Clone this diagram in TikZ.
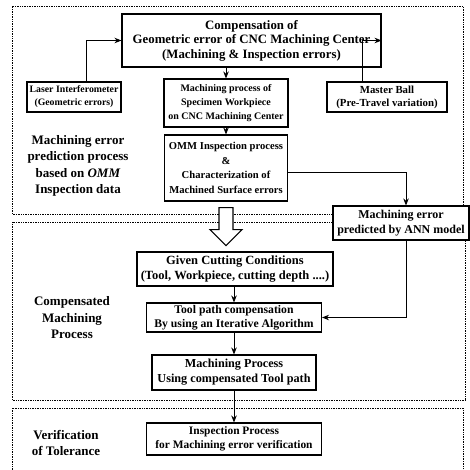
\documentclass[tikz,border=0pt]{standalone}
\usepackage{fontspec}
\setmainfont{Liberation Serif}
\usetikzlibrary{arrows.meta}
\begin{document}
\begin{tikzpicture}[x=1pt,y=-1pt,
 box/.style={draw,line width=1.1pt,fill=white,align=center,inner sep=1pt},
 fsz/.style 2 args={font=\bfseries\fontsize{#1}{#2}\selectfont},
 lab/.style={align=center,font=\bfseries\fontsize{13}{16.5}\selectfont},
 arr/.style={line width=0.9pt,-{Stealth[length=7pt,width=5.5pt]}},
 region/.style={line width=0.8pt,dash pattern=on 0.8pt off 0.9pt},
 hollow/.style={line width=1.1pt,fill=white}]
\useasboundingbox (0,0) rectangle (469,470);
% regions
\draw[region] (333,214) -- (12,214) -- (12,6) -- (463,6) -- (463,206);
\draw[region] (333,222) -- (12,222) -- (12,400) -- (465,400) -- (465,240);
\draw[region] (12,470) -- (12,408) -- (463,408) -- (463,470);
% boxes
\node[box,fsz={12.8}{14.5},minimum width=259pt,minimum height=53pt] (top) at (251.5,40.5)
 {Compensation of\\Geometric error of CNC Machining Center\\(Machining \& Inspection errors)};
\node[box,fsz={9.8}{13},minimum width=94pt,minimum height=30pt] (laser) at (74,97)
 {Laser Interferometer\\(Geometric errors)};
\node[box,fsz={10}{13.8},minimum width=124pt,minimum height=48pt] (mach) at (226,103)
 {Machining process of\\Specimen Workpiece\\on CNC Machining Center};
\node[box,fsz={10.8}{13},minimum width=120pt,minimum height=30pt] (master) at (387,97)
 {Master Ball\\(Pre-Travel variation)};
\node[box,fsz={10.6}{14.5},minimum width=123pt,minimum height=66pt] (omm) at (226,168)
 {OMM Inspection process\\\&\\Characterization of\\Machined Surface errors};
\node[box,fsz={12}{15.5},minimum width=136pt,minimum height=34pt] (ann) at (401,223)
 {Machining error\\predicted by ANN model};
\node[box,fsz={12.5}{15},minimum width=196pt,minimum height=34pt] (given) at (235,269)
 {Given Cutting Conditions\\(Tool, Workpiece, cutting depth ....)};
\node[box,fsz={11.7}{14},minimum width=175pt,minimum height=29pt] (tool) at (234,317.5)
 {Tool path compensation\\By using an Iterative Algorithm};
\node[box,fsz={12.2}{15},minimum width=164pt,minimum height=35pt] (proc) at (234,372.5)
 {Machining Process\\Using compensated Tool path};
\node[box,fsz={11.4}{14},minimum width=175pt,minimum height=32pt] (insp) at (234,439)
 {Inspection Process\\for Machining error verification};
% labels
\node[lab] (l1) at (78,166) {Machining error\\prediction process\\based on \textit{OMM}\\Inspection data};
\node[lab] (l2) at (72,318) {Compensated\\Machining\\Process};
\node[lab] (l3) at (66,443) {Verification\\of Tolerance};
% connectors
\draw[arr] ([xshift=12pt]laser.north) |- (top.west);
\draw[arr] ([xshift=-25pt]master.north) |- (top.east);
\draw[arr] (top.south -| mach.north) -- (mach.north);
\draw[arr] (mach.south) -- (omm.north);
\draw[arr] ([yshift=-4pt]omm.east) -| ([xshift=5pt]ann.north);
\draw[arr] ([xshift=5pt]ann.south) |- (tool.east);
\draw[arr] (given.south -| tool.north) -- (tool.north);
\draw[arr] (tool.south) -- (proc.north);
\draw[arr] (proc.south) -- (insp.north);
% hollow arrow
\draw[hollow] ([xshift=-7pt,yshift=-6pt]omm.south) -- ([xshift=7pt,yshift=-6pt]omm.south)
 -- ([xshift=7pt,yshift=-28pt]omm.south) -- ([xshift=16pt,yshift=-28pt]omm.south)
 -- ([yshift=-44pt]omm.south) -- ([xshift=-16pt,yshift=-28pt]omm.south)
 -- ([xshift=-7pt,yshift=-28pt]omm.south) -- cycle;
\end{tikzpicture}
\end{document}
